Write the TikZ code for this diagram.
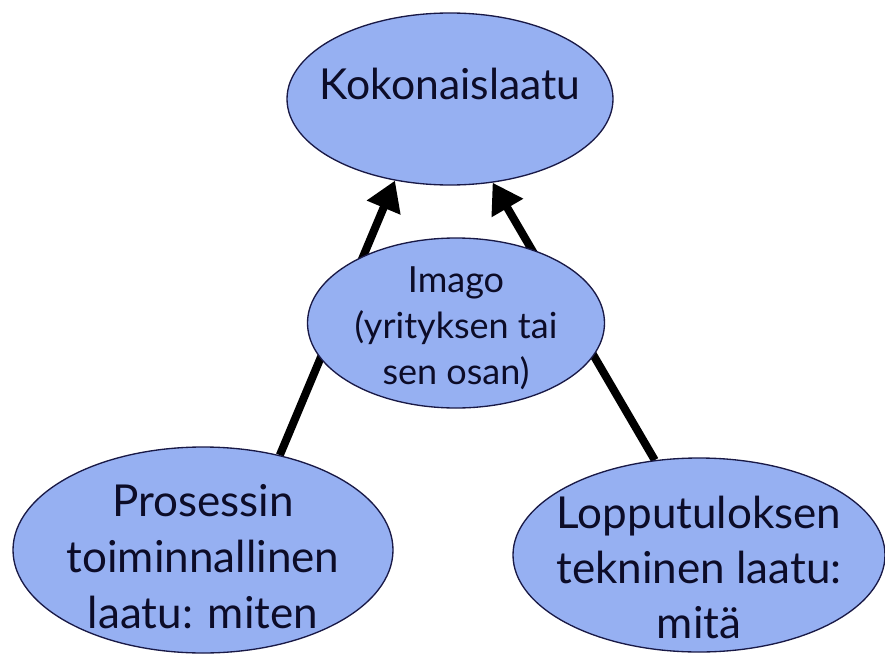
\documentclass[tikz,border=0pt]{standalone}
\usepackage{fontspec}
\setmainfont{Lato}
\usetikzlibrary{shapes.geometric,arrows.meta,backgrounds}
\definecolor{laatusin}{RGB}{150,176,242}
\definecolor{reuna}{RGB}{25,25,70}
\definecolor{teksti}{RGB}{12,12,40}
\tikzset{every picture/.style={line width=0.75pt}}
% rivit ilman kokoa, siirrettyna pystysuunnassa
\newcommand{\rivit}[2]{\raisebox{#1}[0pt][0pt]{\makebox[0pt]{\begin{tabular}{@{}c@{}}#2\end{tabular}}}}

\begin{document}
\begin{tikzpicture}[x=0.75pt,y=0.75pt,yscale=-1,xscale=1,
  laatu/.style={ellipse,draw=reuna,fill=laatusin,line width=1pt,inner sep=0pt,text=teksti,align=center},
  nuoli/.style={line width=6pt,-{Triangle[length=22pt,width=26pt]}}]

\useasboundingbox (0,0) rectangle (885,660);

\node (koko) at (450,99) [laatu,minimum width=244.5pt,minimum height=129pt,font=\fontsize{32}{38}\selectfont] {\rivit{1pt}{Kokonaislaatu}};
\node (imago) at (456,323) [laatu,minimum width=222.75pt,minimum height=127.5pt,font=\fontsize{27}{34.5}\selectfont] {\rivit{-11pt}{Imago\\(yrityksen tai\\sen osan)}};
\node (prosessi) at (203,550) [laatu,minimum width=285pt,minimum height=154.5pt,font=\fontsize{33}{42}\selectfont] {\rivit{-14.5pt}{Prosessin\\toiminnallinen\\laatu: miten}};
\node (tulos) at (699,555) [laatu,minimum width=279pt,minimum height=145.5pt,font=\fontsize{33}{41}\selectfont] {\rivit{-19.5pt}{Lopputuloksen\\tekninen laatu:\\mitä}};

\begin{scope}[on background layer]
\draw [nuoli] (prosessi.51) -- (koko.236);
\draw [nuoli] (tulos.115) -- (koko.297);
\end{scope}

\end{tikzpicture}
\end{document}
